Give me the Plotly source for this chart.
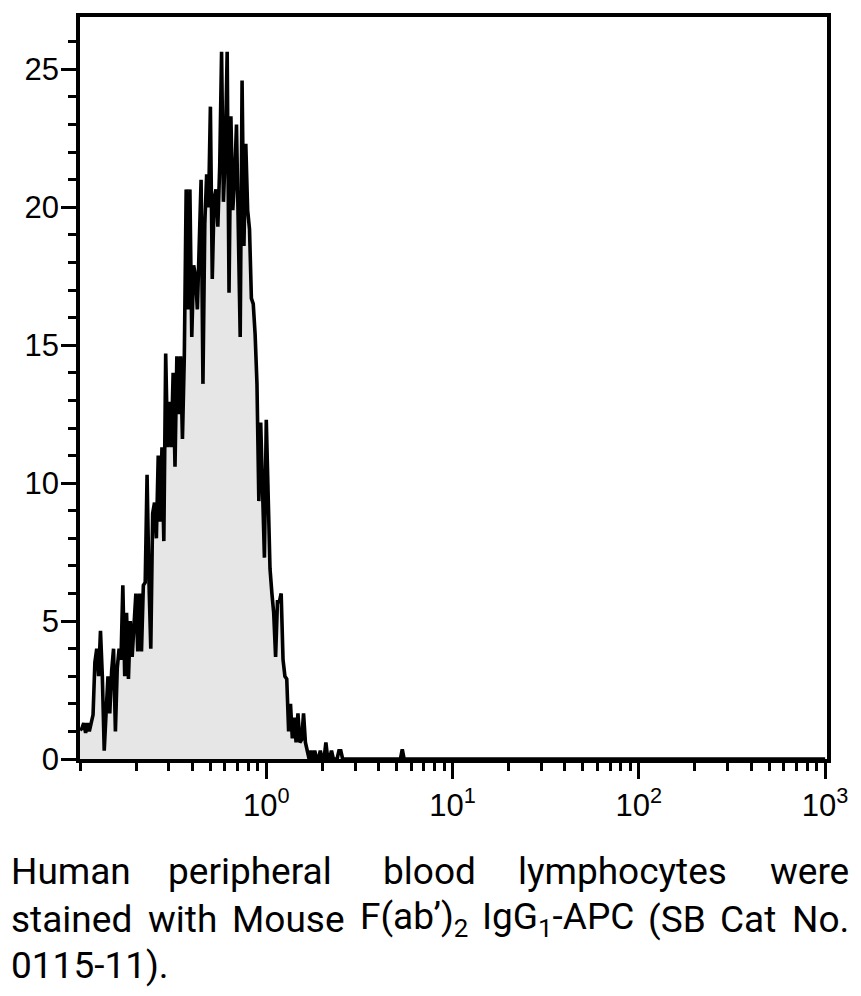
import plotly.graph_objects as go

# APC intensity (log channels) and event counts
intensidad = [
    0.1000, 0.1023, 0.1047, 0.1072, 0.1096, 0.1122, 0.1148, 0.1175, 0.1202, 0.1230,
    0.1259, 0.1288, 0.1318, 0.1349, 0.1380, 0.1413, 0.1445, 0.1479, 0.1514, 0.1549,
    0.1585, 0.1622, 0.1660, 0.1698, 0.1738, 0.1778, 0.1820, 0.1862, 0.1905, 0.1950,
    0.1995, 0.2042, 0.2089, 0.2138, 0.2188, 0.2239, 0.2291, 0.2344, 0.2399, 0.2455,
    0.2512, 0.2570, 0.2630, 0.2692, 0.2754, 0.2818, 0.2884, 0.2951, 0.3020, 0.3090,
    0.3162, 0.3236, 0.3311, 0.3388, 0.3467, 0.3548, 0.3631, 0.3715, 0.3802, 0.3890,
    0.3981, 0.4074, 0.4169, 0.4266, 0.4365, 0.4467, 0.4571, 0.4677, 0.4786, 0.4898,
    0.5012, 0.5129, 0.5248, 0.5370, 0.5495, 0.5623, 0.5754, 0.5888, 0.6026, 0.6166,
    0.6310, 0.6457, 0.6607, 0.6761, 0.6918, 0.7079, 0.7244, 0.7413, 0.7586, 0.7762,
    0.7943, 0.8128, 0.8318, 0.8511, 0.8710, 0.8913, 0.9120, 0.9333, 0.9550, 0.9772,
    1.000, 1.023, 1.047, 1.072, 1.096, 1.122, 1.148, 1.175, 1.202, 1.230,
    1.259, 1.288, 1.318, 1.349, 1.380, 1.413, 1.445, 1.479, 1.514, 1.549,
    1.585, 1.622, 1.660, 1.698, 1.738, 1.778, 1.820, 1.862, 1.905, 1.950,
    1.995, 2.042, 2.089, 2.138, 2.188, 2.239, 2.291, 2.344, 2.399, 2.455,
    2.512, 2.570, 2.630,
    5.248, 5.370, 5.495, 1000.0,
]
eventos = [
    1.05, 1.1, 1.3, 0.95, 1.3, 1.0, 1.3, 1.6, 3.5, 4.0,
    3.0, 4.65, 3.0, 0.3, 1.65, 3.0, 1.65, 3.2, 4.0, 1.0,
    3.3, 4.0, 3.6, 6.3, 3.0, 5.3, 2.9, 5.0, 3.7, 5.0,
    6.0, 3.9, 6.0, 3.9, 6.3, 6.4, 10.3, 6.5, 4.0, 8.9,
    9.3, 8.0, 11.0, 8.6, 11.3, 7.9, 14.7, 11.3, 12.95, 11.3,
    14.0, 10.6, 14.6, 12.5, 14.6, 11.6, 14.6, 20.65, 16.3, 20.65,
    15.3, 17.9, 17.5, 16.3, 19.0, 21.0, 13.6, 19.4, 21.2, 20.0,
    23.65, 17.4, 20.3, 20.65, 19.3, 21.5, 25.64, 20.2, 22.0, 25.64,
    16.9, 23.3, 19.9, 21.0, 23.0, 19.0, 15.3, 24.6, 18.6, 22.3,
    19.9, 19.2, 16.7, 16.5, 15.4, 13.6, 9.35, 12.2, 10.1, 7.3,
    12.3, 10.1, 6.9, 6.0, 5.3, 3.7, 5.7, 5.7, 6.0, 3.6,
    3.0, 2.9, 1.0, 2.0, 0.75, 1.5, 0.6, 1.65, 0.6, 0.7,
    1.65, 0.6, 0.3, 0, 0.3, 0, 0.3, 0, 0, 0.3,
    0, 0, 0.6, 0, 0, 0.3, 0, 0, 0, 0.3,
    0.3, 0, 0,
    0, 0.35, 0, 0,
]

y_ticks = [0, 5, 10, 15, 20, 25]
x_ticks = [1, 10, 100, 1000]
x_ticktext = ['10<sup>0</sup>', '10<sup>1</sup>', '10<sup>2</sup>', '10<sup>3</sup>']
x_minor = [0.1, 0.2, 0.3, 0.4, 0.5, 0.6, 0.7, 0.8, 0.9,
           2, 3, 4, 5, 6, 7, 8, 9,
           20, 30, 40, 50, 60, 70, 80, 90,
           200, 300, 400, 500, 600, 700, 800, 900]

# caption, justified word by word like the original
linea1 = ['Human', 'peripheral', 'blood', 'lymphocytes', 'were']
linea2 = ['stained', 'with', 'Mouse', 'F(ab’)<sub>2</sub>', 'IgG<sub>1</sub>-APC', '(SB', 'Cat', 'No.']
linea3 = ['0115-11).']
# word anchors in page pixels (first word left, last word right, others centred)
pos1 = [9, 250, 430, 623, 852]
pos2 = [9, 183, 289, 414, 559, 678, 749, 852]
pos3 = [9]
centros_y = [872, 920, 967]

# page has an 8px body margin; plot area sits at x 80..828, y 13..759 on the page
W, H = 845, 980
L, T = 72, 5
pw, ph = 748, 746
R, B = W - L - pw, H - T - ph

fig = go.Figure()
fig.add_trace(go.Scatter(
    x=intensidad, y=eventos,
    mode='lines',
    line=dict(color='black', width=3.6),
    fill='tozeroy',
    fillcolor='#e6e6e6',
    showlegend=False,
))

eje = dict(showline=True, linecolor='black', linewidth=3.5, mirror=True,
           showgrid=False, zeroline=False, ticks='outside',
           tickcolor='black', tickwidth=2.5,
           tickfont=dict(family='Liberation Sans', size=31, color='black'))

fig.update_layout(
    width=W, height=H,
    margin=dict(l=L, r=R, t=T, b=B),
    paper_bgcolor='white', plot_bgcolor='white',
    xaxis=dict(eje, type='log', range=[-1, 3.01],
               tickmode='array', tickvals=x_ticks, ticktext=x_ticktext, ticklen=16,
               minor=dict(tickmode='array', tickvals=x_minor, ticks='outside',
                          ticklen=8, tickwidth=2.5, tickcolor='black')),
    yaxis=dict(eje, range=[0, 26.9], tickmode='array', tickvals=y_ticks, ticklen=15,
               ticklabelstandoff=-4,
               minor=dict(dtick=1, ticks='outside', ticklen=8, tickwidth=2.5,
                          tickcolor='black')),
)

annotations = []
for palabras, posiciones, cy in zip([linea1, linea2, linea3], [pos1, pos2, pos3], centros_y):
    for i, (p, px) in enumerate(zip(palabras, posiciones)):
        if i == 0:
            anchor = 'left'
        elif i == len(palabras) - 1:
            anchor = 'right'
        else:
            anchor = 'center'
        annotations.append(dict(
            xref='paper', yref='paper',
            x=(px - 80) / pw, y=(759 - cy) / ph,
            text=p, showarrow=False,
            xanchor=anchor, yanchor='middle',
            font=dict(family='Roboto', size=37, color='black'),
        ))
fig.update_layout(annotations=annotations)

fig.write_html("out.html")
